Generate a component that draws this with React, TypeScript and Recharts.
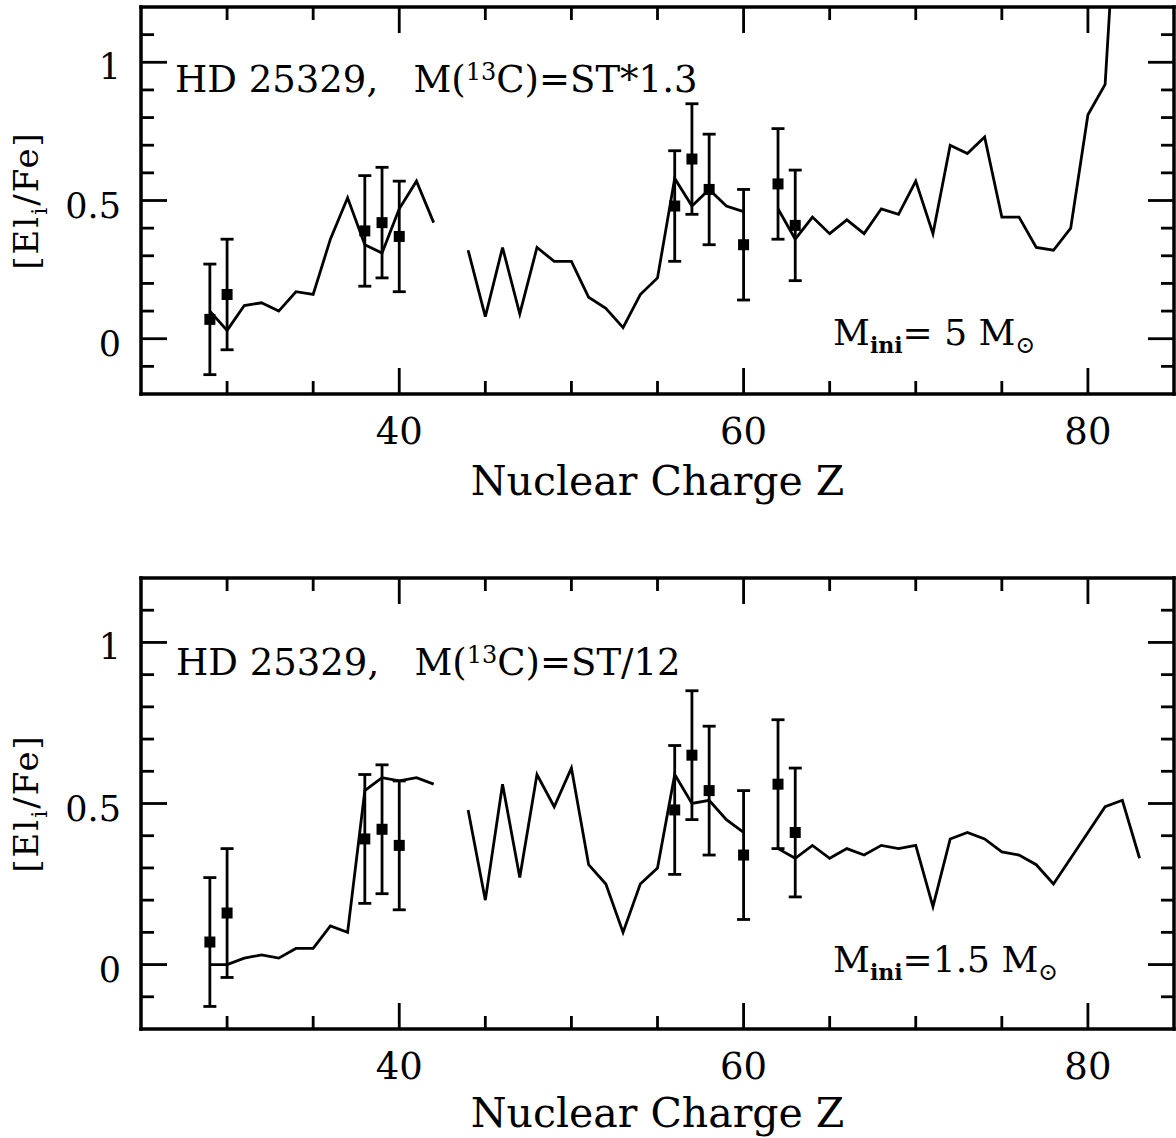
import React from 'react';
import { ComposedChart, Line, Scatter, XAxis, YAxis, ErrorBar } from 'recharts';

// ---------- data ----------
const zModel = [
  29, 30, 31, 32, 33, 34, 35, 36, 37, 38, 39, 40, 41, 42, 43,
  44, 45, 46, 47, 48, 49, 50, 51, 52, 53, 54, 55, 56, 57, 58, 59, 60, 61,
  62, 63, 64, 65, 66, 67, 68, 69, 70, 71, 72, 73, 74, 75, 76, 77, 78, 79, 80, 81, 82, 83,
];
// model, M_ini = 5 Msun, M(13C)=ST*1.3
const modelTop: (number | null)[] = [
  0.10, 0.03, 0.12, 0.13, 0.10, 0.17, 0.16, 0.36, 0.51, 0.34, 0.31, 0.47, 0.57, 0.42, null,
  0.32, 0.08, 0.33, 0.09, 0.33, 0.28, 0.28, 0.15, 0.11, 0.04, 0.16, 0.22, 0.58, 0.48, 0.54, 0.48, 0.46, null,
  0.47, 0.36, 0.44, 0.38, 0.43, 0.38, 0.47, 0.45, 0.57, 0.38, 0.70, 0.67, 0.73, 0.44, 0.44, 0.33, 0.32, 0.40, 0.81, 0.92, 1.95, null,
];
// model, M_ini = 1.5 Msun, M(13C)=ST/12
const modelBottom: (number | null)[] = [
  0.00, 0.00, 0.02, 0.03, 0.02, 0.05, 0.05, 0.12, 0.10, 0.54, 0.58, 0.57, 0.58, 0.56, null,
  0.48, 0.20, 0.56, 0.27, 0.59, 0.49, 0.61, 0.31, 0.25, 0.10, 0.25, 0.30, 0.59, 0.50, 0.51, 0.45, 0.41, null,
  0.36, 0.33, 0.37, 0.33, 0.36, 0.34, 0.37, 0.36, 0.37, 0.18, 0.39, 0.41, 0.39, 0.35, 0.34, 0.31, 0.25, 0.33, 0.41, 0.49, 0.51, 0.33,
];
// observations HD 25329
const zObs = [29, 30, 38, 39, 40, 56, 57, 58, 60, 62, 63];
const obsVal = [0.07, 0.16, 0.39, 0.42, 0.37, 0.48, 0.65, 0.54, 0.34, 0.56, 0.41];
const obsErr = [0.2, 0.2, 0.2, 0.2, 0.2, 0.2, 0.2, 0.2, 0.2, 0.2, 0.2];

const xMajorTicks = [40, 60, 80];
const xTickLabels = ['40', '60', '80'];
const xMinorTicks = [30, 35, 45, 50, 55, 65, 70, 75];
const yMajorTicks = [0, 0.5, 1];
const yTickLabels = ['0', '0.5', '1'];
const yMinorTicks = [-0.1, 0.1, 0.2, 0.3, 0.4, 0.6, 0.7, 0.8, 0.9, 1.1];

const xDomain: [number, number] = [25, 85];
const yDomain: [number, number] = [-0.2, 1.2];

// ---------- styling ----------
const FONT = "'DejaVu Serif', 'Liberation Serif', serif";
const MAJOR_LEN = 26;
const MINOR_LEN = 13;
const TICK_W = 2.8;
const LINE_W = 2.8;
const FRAME = { stroke: '#000', strokeWidth: 3.5, strokeLinecap: 'square' as const };

const xTicksAll = [...xMinorTicks, ...xMajorTicks].sort((a, b) => a - b);
const yTicksAll = [...yMinorTicks, ...yMajorTicks].sort((a, b) => a - b);
const findIdx = (arr: number[], v: number) => arr.findIndex((m) => Math.abs(m - v) < 1e-6);

const BottomTick = (p: any) => {
  const { x, y, payload } = p;
  const i = findIdx(xMajorTicks, payload.value);
  const len = i >= 0 ? MAJOR_LEN : MINOR_LEN;
  return (
    <g>
      <line x1={x} x2={x} y1={y} y2={y - len} stroke="#000" strokeWidth={TICK_W} />
      {i >= 0 && (
        <text x={x} y={y + 50} textAnchor="middle" fontFamily={FONT} fontSize={37} fill="#000">
          {xTickLabels[i]}
        </text>
      )}
    </g>
  );
};
const TopTick = (p: any) => {
  const { x, y, payload } = p;
  const i = findIdx(xMajorTicks, payload.value);
  const len = i >= 0 ? MAJOR_LEN : MINOR_LEN;
  return <line x1={x} x2={x} y1={y} y2={y + len} stroke="#000" strokeWidth={TICK_W} />;
};
const LeftTick = (p: any) => {
  const { x, y, payload } = p;
  const i = findIdx(yMajorTicks, payload.value);
  const len = i >= 0 ? MAJOR_LEN : MINOR_LEN;
  return (
    <g>
      <line x1={x} x2={x + len} y1={y} y2={y} stroke="#000" strokeWidth={TICK_W} />
      {i >= 0 && (
        <text x={x - 20} y={y + 17} textAnchor="end" fontFamily={FONT} fontSize={35} fill="#000">
          {yTickLabels[i]}
        </text>
      )}
    </g>
  );
};
const RightTick = (p: any) => {
  const { x, y, payload } = p;
  const i = findIdx(yMajorTicks, payload.value);
  const len = i >= 0 ? MAJOR_LEN : MINOR_LEN;
  return <line x1={x} x2={x - len} y1={y} y2={y} stroke="#000" strokeWidth={TICK_W} />;
};

const SquareDot = (p: any) => {
  const { cx, cy } = p;
  if (cx == null || cy == null) return null;
  return <rect x={cx - 5.5} y={cy - 5.5} width={11} height={11} fill="#000" />;
};

type PanelProps = {
  model: (number | null)[];
  top: number;
  height: number;
  marginTop: number;
  axisHeight: number;
  labelOffset: number;
};

const Panel = ({ model, top, height, marginTop, axisHeight, labelOffset }: PanelProps) => {
  const lineData = zModel.map((z, i) => ({ z, v: model[i] }));
  const obsData = zObs.map((z, i) => ({ z, v: obsVal[i], err: obsErr[i] }));
  return (
    <div style={{ position: 'absolute', left: 0, top }}>
      <ComposedChart width={1176} height={height} margin={{ top: marginTop, right: 1, bottom: 0, left: 0 }}>
        <XAxis
          xAxisId="b"
          dataKey="z"
          type="number"
          orientation="bottom"
          domain={xDomain}
          allowDataOverflow
          ticks={xTicksAll}
          interval={0}
          height={axisHeight}
          tickSize={0}
          tickMargin={0}
          tickLine={false}
          axisLine={FRAME}
          tick={BottomTick}
          label={{
            value: 'Nuclear Charge Z',
            position: 'insideBottom',
            offset: labelOffset,
            fontFamily: FONT,
            fontSize: 41,
            fill: '#000',
          }}
        />
        <XAxis
          xAxisId="t"
          dataKey="z"
          type="number"
          orientation="top"
          domain={xDomain}
          allowDataOverflow
          ticks={xTicksAll}
          interval={0}
          height={1}
          tickSize={0}
          tickMargin={0}
          tickLine={false}
          axisLine={FRAME}
          tick={TopTick}
        />
        <YAxis
          yAxisId="l"
          type="number"
          orientation="left"
          domain={yDomain}
          allowDataOverflow
          ticks={yTicksAll}
          interval={0}
          width={141}
          tickSize={0}
          tickMargin={0}
          tickLine={false}
          axisLine={FRAME}
          tick={LeftTick}
        />
        <YAxis
          yAxisId="r"
          type="number"
          orientation="right"
          domain={yDomain}
          allowDataOverflow
          ticks={yTicksAll}
          interval={0}
          width={1}
          tickSize={0}
          tickMargin={0}
          tickLine={false}
          axisLine={FRAME}
          tick={RightTick}
        />
        <Line
          data={lineData}
          dataKey="v"
          xAxisId="t"
          yAxisId="r"
          type="linear"
          stroke="none"
          dot={false}
          activeDot={false}
          legendType="none"
          isAnimationActive={false}
        />
        <Line
          data={lineData}
          dataKey="v"
          xAxisId="b"
          yAxisId="l"
          type="linear"
          stroke="#000"
          strokeWidth={LINE_W}
          dot={false}
          activeDot={false}
          connectNulls={false}
          isAnimationActive={false}
        />
        <Scatter
          data={obsData}
          dataKey="v"
          xAxisId="b"
          yAxisId="l"
          fill="#000"
          shape={SquareDot}
          isAnimationActive={false}
        >
          <ErrorBar dataKey="err" direction="y" width={6.5} stroke="#000" strokeWidth={LINE_W} isAnimationActive={false} />
        </Scatter>
      </ComposedChart>
    </div>
  );
};

const Overlay = () => (
  <svg
    width={1176}
    height={1138}
    style={{ position: 'absolute', left: 0, top: 0, pointerEvents: 'none' }}
    fontFamily={FONT}
    fill="#000"
  >
    <text x={175} y={92} fontSize={37} style={{ whiteSpace: 'pre' }}>
      {'HD 25329,   M('}
      <tspan dy={-12} fontSize={24}>13</tspan>
      <tspan dy={12}>{'C)=ST*1.3'}</tspan>
    </text>
    <text x={176} y={675} fontSize={37} style={{ whiteSpace: 'pre' }}>
      {'HD 25329,   M('}
      <tspan dy={-12} fontSize={24}>13</tspan>
      <tspan dy={12}>{'C)=ST/12'}</tspan>
    </text>
    <text x={833} y={345} fontSize={36} style={{ whiteSpace: 'pre' }}>
      {'M'}
      <tspan dy={8} fontSize={22} fontWeight={600}>ini</tspan>
      <tspan dy={-8}>{'= 5 M'}</tspan>
      <tspan dy={8} fontSize={24}>{'\u2299'}</tspan>
    </text>
    <text x={833} y={972} fontSize={36} style={{ whiteSpace: 'pre' }}>
      {'M'}
      <tspan dy={8} fontSize={22} fontWeight={600}>ini</tspan>
      <tspan dy={-8}>{'=1.5 M'}</tspan>
      <tspan dy={8} fontSize={24}>{'\u2299'}</tspan>
    </text>
    {[200.5, 803.5].map((cy) => (
      <text
        key={cy}
        transform={`translate(38, ${cy}) rotate(-90)`}
        textAnchor="middle"
        fontSize={34}
        letterSpacing={2}
      >
        {'[El'}
        <tspan dy={9} fontSize={22}>i</tspan>
        <tspan dy={-9}>{'/Fe]'}</tspan>
      </text>
    ))}
  </svg>
);

export default function App() {
  return (
    <div style={{ position: 'absolute', left: 0, top: 0, width: 1176, height: 1138, background: '#fff' }}>
      <Panel model={modelTop} top={0} height={520} marginTop={6} axisHeight={126} labelOffset={25} />
      <Panel model={modelBottom} top={520} height={618} marginTop={57} axisHeight={109} labelOffset={11} />
      <Overlay />
    </div>
  );
}
